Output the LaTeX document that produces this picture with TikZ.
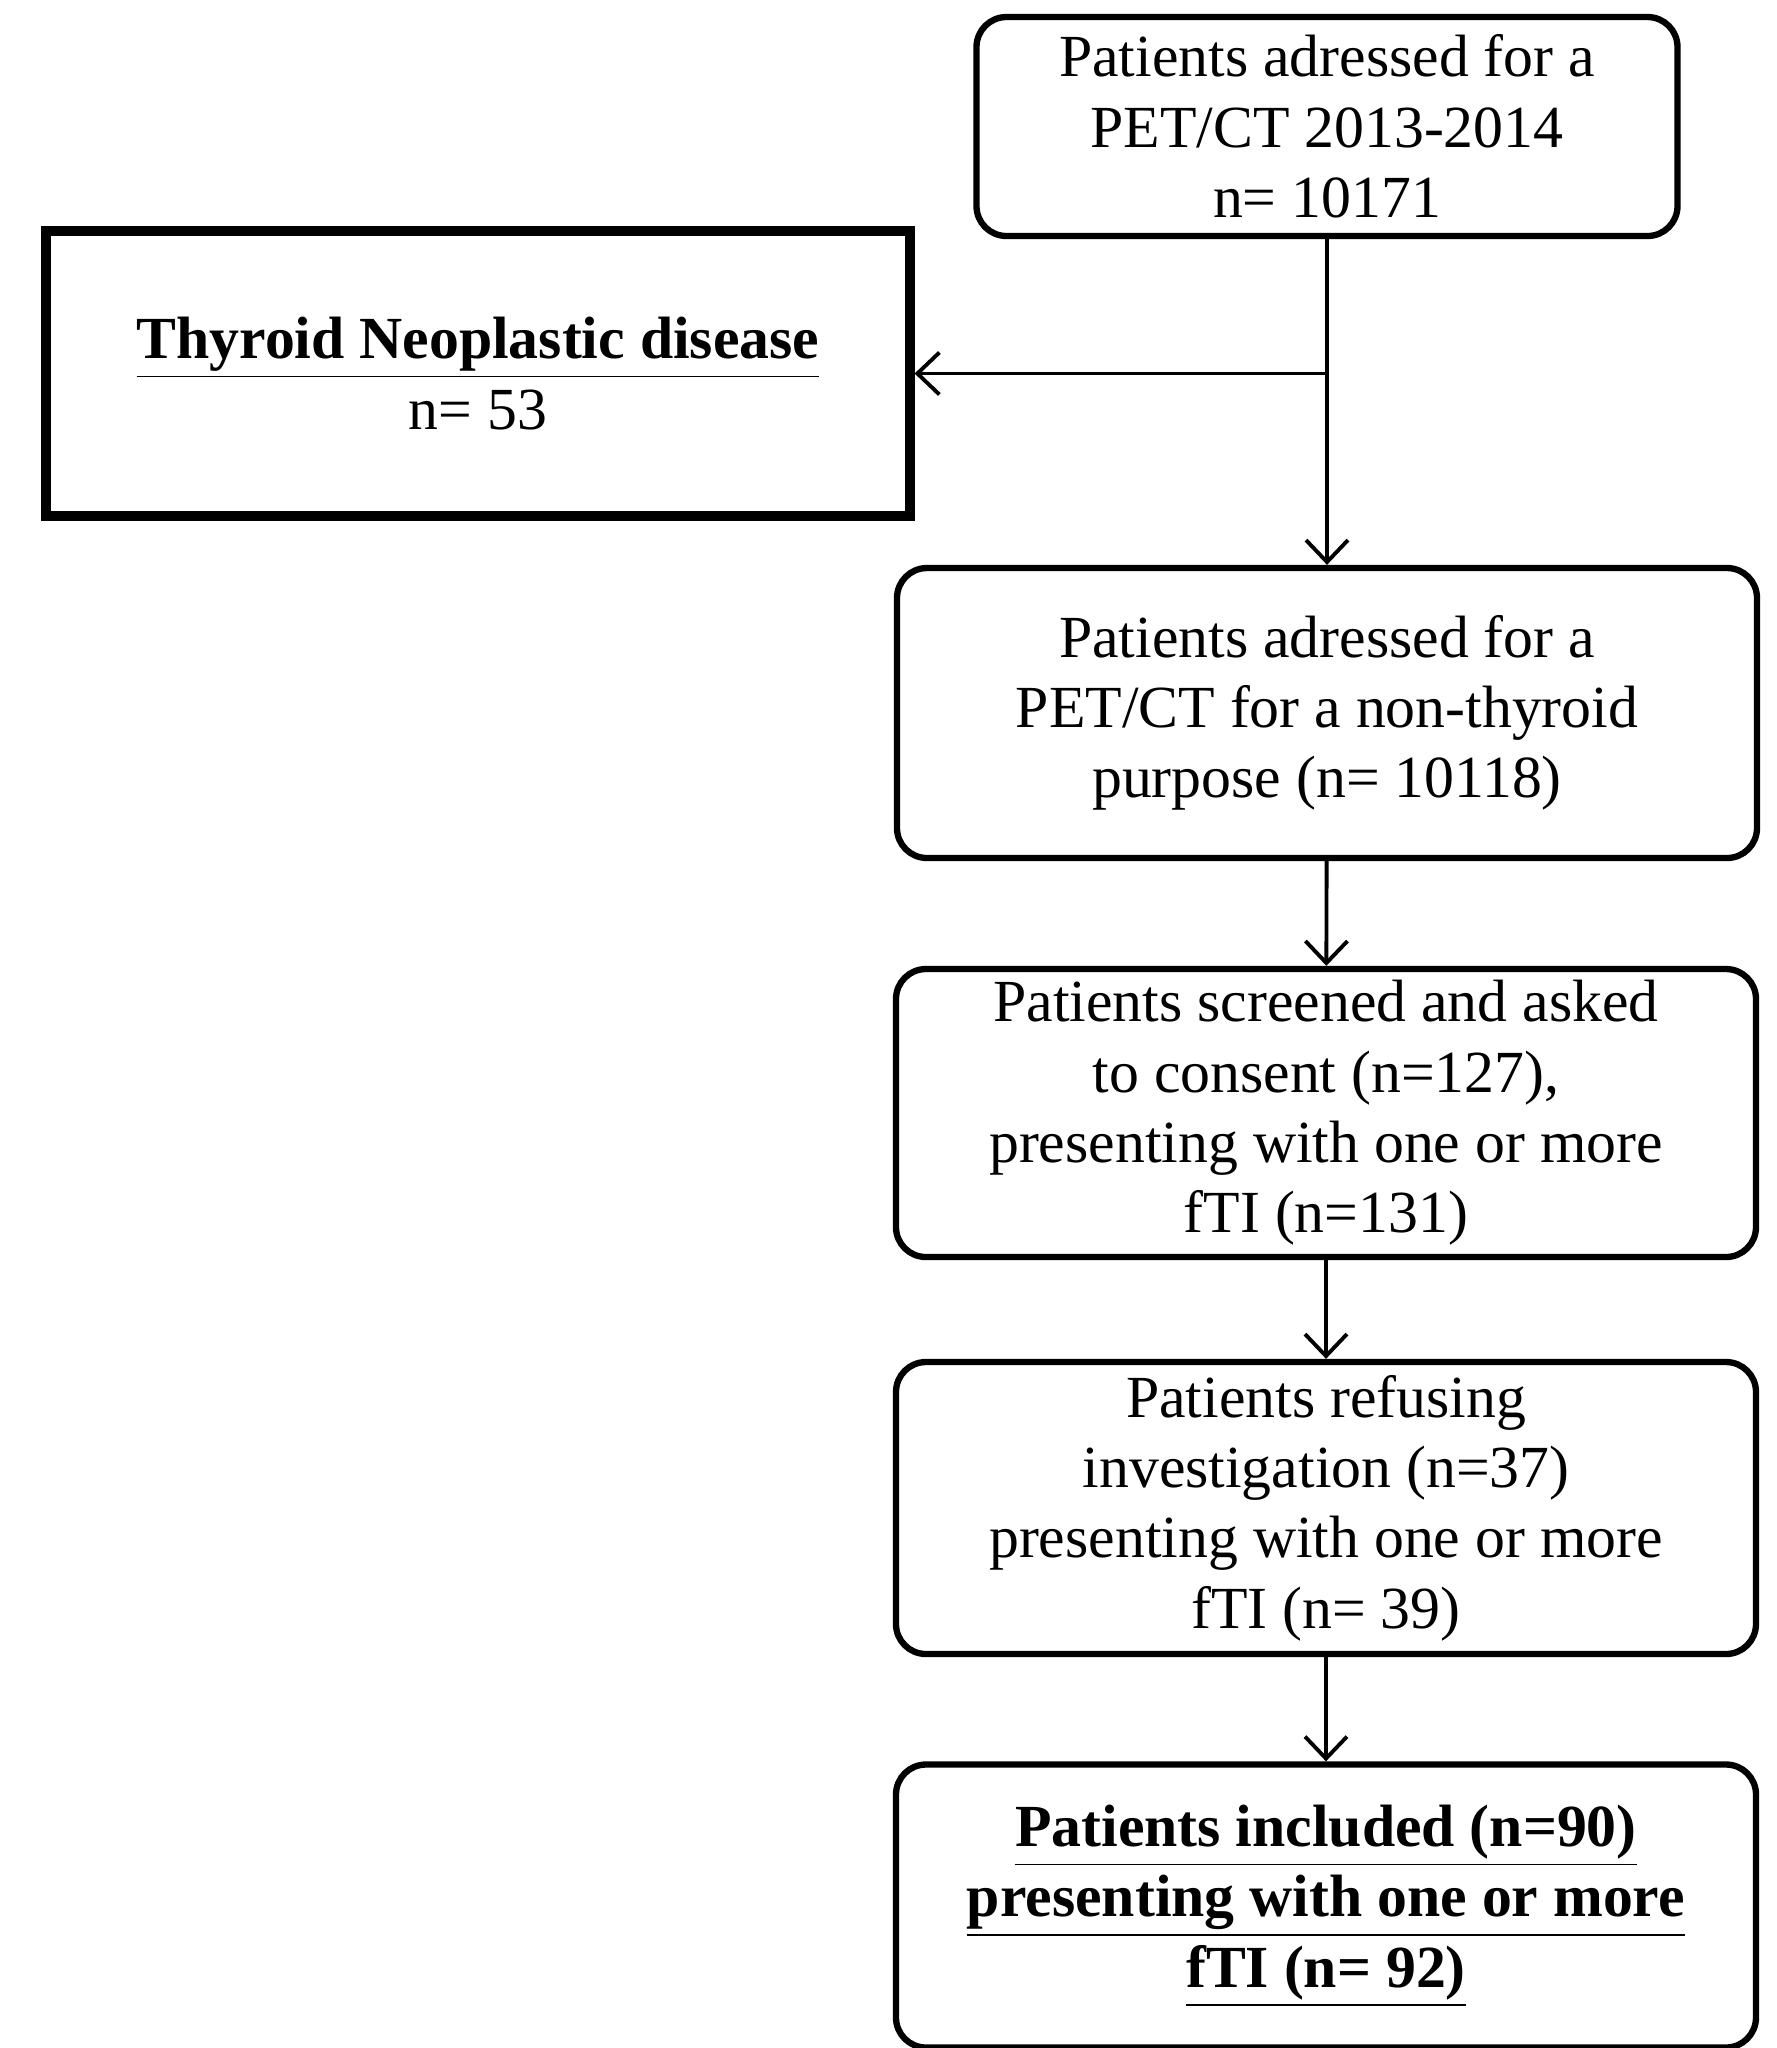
\documentclass[tikz,border=0pt]{standalone}
\usepackage{fontspec}
\setmainfont{Liberation Serif}
\usetikzlibrary{arrows.meta}
\begin{document}
\begin{tikzpicture}[
  box/.style={draw,line width=1.8pt,rounded corners=.3cm,align=center,inner sep=0pt,minimum width=8.6cm,minimum height=2.9cm},
  arr/.style={line width=1.1pt,-{Straight Barb[length=2.2mm,width=4.2mm]}},
  font=\fontsize{17}{20}\selectfont]
\useasboundingbox (0,0) rectangle (17.77,-20.48);
\node[box,minimum width=7.01cm,minimum height=2.19cm] (all) at (13.27,-1.265) {Patients adressed for a\\PET/CT 2013-2014\\n= 10171};
\node[draw,line width=2.6pt,align=center,inner sep=0pt,minimum width=8.64cm,minimum height=2.85cm] (neo) at (4.78,-3.735) {\textbf{\underline{Thyroid Neoplastic disease}}\\n= 53};
\node[box] (pur) at (13.27,-7.13) {Patients adressed for a\\PET/CT for a non-thyroid\\purpose (n= 10118)};
\node[box,minimum height=2.88cm] (scr) at (13.26,-11.13) {Patients screened and asked\\to consent (n=127),\\presenting with one or more\\fTI (n=131)};
\node[box,minimum height=2.92cm] (ref) at (13.26,-15.08) {Patients refusing\\investigation (n=37)\\presenting with one or more\\fTI (n= 39)};
\node[box,minimum height=2.83cm] (inc) at (13.26,-19.06) {\textbf{\underline{Patients included (n=90)}}\\\textbf{\underline{presenting with one or more}}\\\textbf{\underline{fTI (n= 92)}}};
\coordinate (split) at (all.south |- neo.east);
\draw[arr] (all) -- (pur);
\draw[arr] (split) -- (neo);
\draw[arr] (pur) -- (scr);
\draw[arr] (scr) -- (ref);
\draw[arr] (ref) -- (inc);
\end{tikzpicture}
\end{document}
